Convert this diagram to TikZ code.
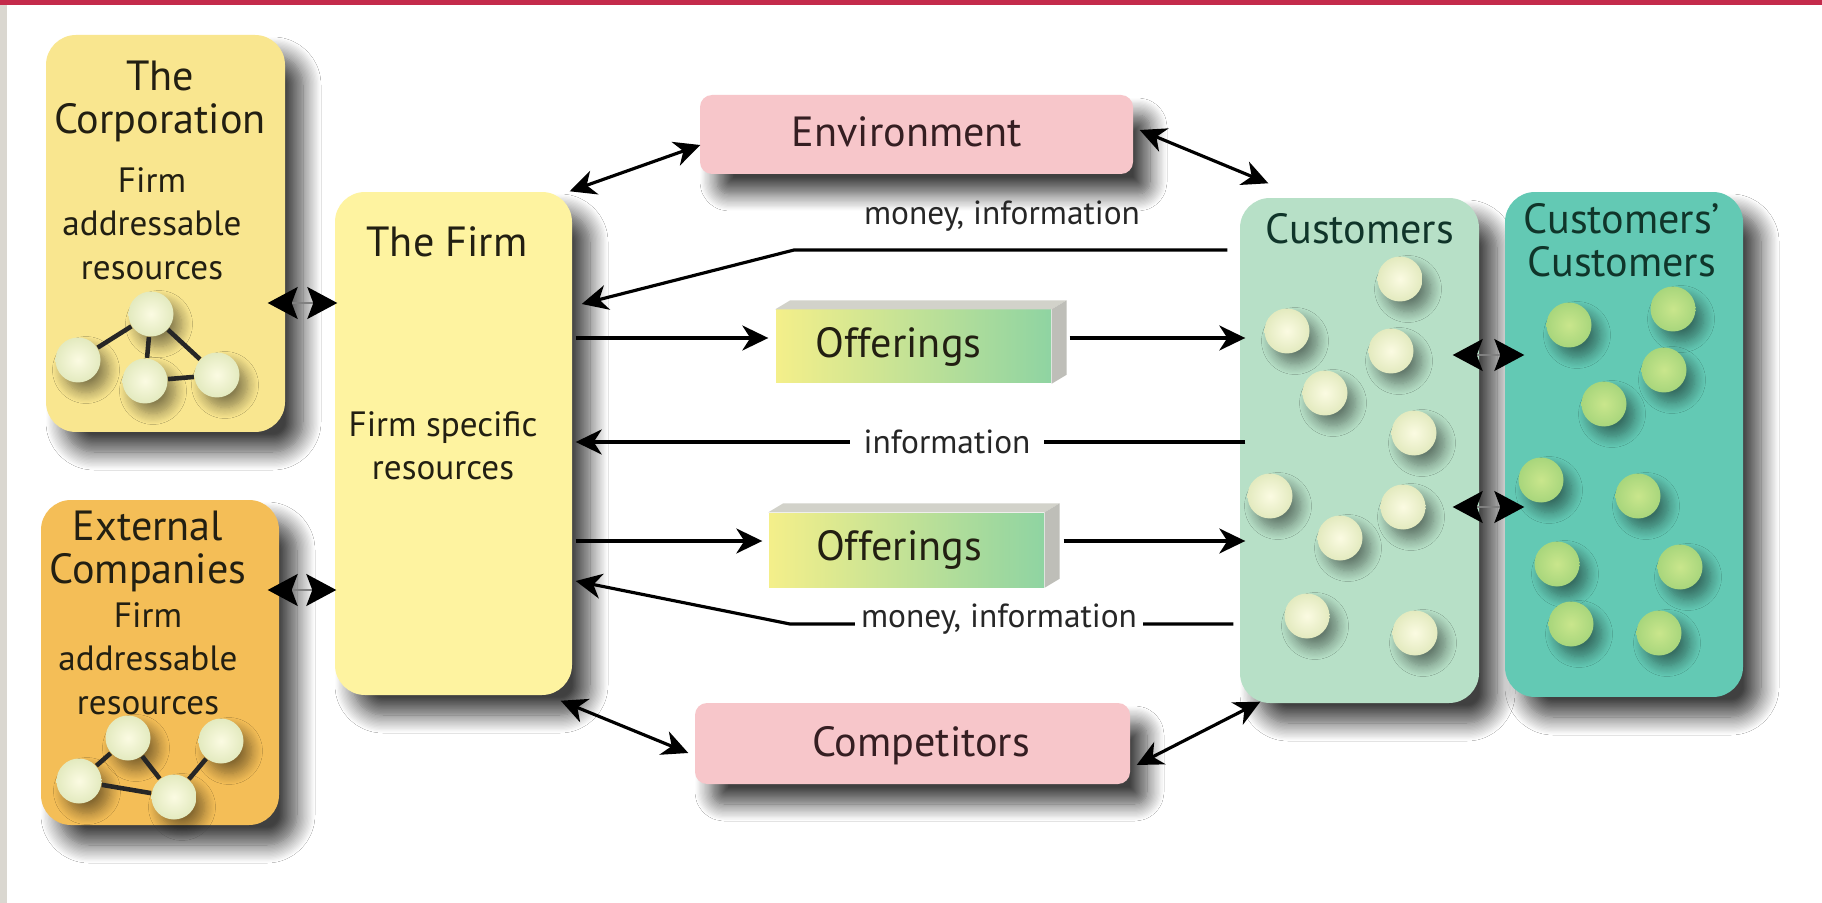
\documentclass[tikz,border=0pt]{standalone}
\usepackage{fontspec}
\setmainfont{PT Sans}
\usetikzlibrary{positioning, arrows.meta, shadows.blur, calc}

\definecolor{bandred}{HTML}{C42B4B}
\definecolor{edgegray}{HTML}{DAD7D0}
\definecolor{corpyellow}{HTML}{F9E68F}
\definecolor{firmyellow}{HTML}{FEF3A0}
\definecolor{extorange}{HTML}{F4BE57}
\definecolor{envpink}{HTML}{F7C6CA}
\definecolor{offyellow}{HTML}{F4EF8A}
\definecolor{offgreen}{HTML}{8FD4A2}
\definecolor{offtop}{HTML}{D2D2CA}
\definecolor{offside}{HTML}{BEBEB8}
\definecolor{custgreen}{HTML}{B7E0C7}
\definecolor{ccteal}{HTML}{63C9B4}
\definecolor{dotcream}{HTML}{FBFBE2}
\definecolor{dotcreamedge}{HTML}{E3EABF}
\definecolor{dotlime}{HTML}{C9E68C}
\definecolor{dotlimeedge}{HTML}{A8D67C}
\definecolor{inkbrown}{HTML}{221F12}
\definecolor{inkgreen}{HTML}{10352A}
\definecolor{inkrose}{HTML}{351E22}

\begin{document}
\begin{tikzpicture}[x=0.1mm, y=-0.1mm,
        box/.style={rounded corners=3mm, inner sep=0pt,
            blur shadow={shadow xshift=1.8mm, shadow yshift=-2mm, shadow blur radius=1.8mm, shadow blur steps=14, shadow opacity=75}},
        flatbox/.style={rounded corners=1.2mm, inner sep=0pt, fill=envpink,
            blur shadow={shadow xshift=1.7mm, shadow yshift=-2mm, shadow blur radius=1.7mm, shadow blur steps=14, shadow opacity=75}},
        title/.style={font=\fontsize{12}{12.3}\selectfont, align=center, inner sep=0pt, text=inkbrown},
        body/.style={font=\fontsize{10}{12.3}\selectfont, align=center, inner sep=0pt, text=inkbrown},
        flowtext/.style={font=\fontsize{9.5}{11}\selectfont, inner sep=0pt, text=black!85},
        dot/.style={circle, minimum size=4.5mm, inner sep=0pt, inner color=dotcream, outer color=dotcreamedge,
            blur shadow={shadow xshift=0.8mm, shadow yshift=-1mm, shadow blur radius=1.1mm, shadow blur steps=10, shadow opacity=45}},
        limedot/.style={dot, inner color=dotlime, outer color=dotlimeedge},
        edge/.style={line width=1.3pt, black!85},
        flow/.style={line width=0.9pt, -{Stealth[length=2.6mm, width=2.5mm, inset=0.8mm]}},
        twoway/.style={line width=0.9pt, {Stealth[length=2.6mm, width=2.5mm, inset=0.8mm]}-{Stealth[length=2.6mm, width=2.5mm, inset=0.8mm]}},
        link/.style={line width=0.5pt, draw=gray, {Stealth[length=3mm, width=3.2mm, inset=0.6mm, black]}-{Stealth[length=3mm, width=3.2mm, inset=0.6mm, black]}},
    ]
    \useasboundingbox (0,0) rectangle (1822,903);
    \fill[white] (0,0) rectangle (1822,903);
    \fill[bandred] (0,0) rectangle (1822,5);
    \fill[edgegray] (0,5) rectangle (7,903);

    \node[box, fill=corpyellow, minimum width=23.9mm, minimum height=39.7mm] (corp) at (165.5,233.5) {};
    \node[box, fill=extorange, minimum width=23.8mm, minimum height=32.5mm] (ext) at (160,662.5) {};
    \node[box, fill=firmyellow, minimum width=23.7mm, minimum height=50.3mm] (firm) at (453.5,443.5) {};
    \node[flatbox, minimum width=43.3mm, minimum height=7.9mm] (env) at (916.5,134.5) {};
    \node[flatbox, minimum width=43.5mm, minimum height=8.1mm] (comp) at (912.5,743.5) {};
    \node[box, fill=custgreen, minimum width=23.9mm, minimum height=50.5mm] (cust) at (1359.5,450.5) {};
    \node[box, fill=ccteal, minimum width=23.8mm, minimum height=50.5mm] (cc) at (1624,444.5) {};

    \node[title, anchor=north] (corptitle) at (160,60) {The\\Corporation};
    \node[body, anchor=north] (corpbody) at (152,167) {Firm\\addressable\\resources};
    \node[title, anchor=north] (exttitle) at (148,510) {External\\Companies};
    \node[body, anchor=north] (extbody) at (148,602) {Firm\\addressable\\resources};
    \node[title, anchor=north] (firmtitle) at (447,226) {The Firm};
    \node[body, anchor=north] (firmbody) at (443,411) {Firm specific\\resources};
    \node[title, text=inkrose] (envtext) at (907,132) {Environment};
    \node[title, text=inkrose] (comptext) at (921,746) {Competitors};
    \node[title, text=inkgreen] (custtitle) at (1360,229) {Customers};
    \node[title, text=inkgreen, anchor=north] (cctitle) at (1622,203) {Customers’\\Customers};

    \node[dot] (ct) at (151,314) {};
    \node[dot] (cl) at (78,360) {};
    \node[dot] (cm) at (145,381) {};
    \node[dot] (cr) at (217,375) {};
    \draw[edge] (cl) -- (ct) (ct) -- (cm) (ct) -- (cr) (cm) -- (cr);
    \node[dot] (et) at (128,738) {};
    \node[dot] (er) at (221,741) {};
    \node[dot] (el) at (79,781) {};
    \node[dot] (eb) at (174,797) {};
    \draw[edge] (el) -- (et) (et) -- (eb) (eb) -- (er) (el) -- (eb);

    \foreach \px/\py [count=\i] in {1400/279, 1287/331, 1391/351, 1325/393, 1414/433,
            1270/496, 1403/507, 1340/538, 1307/616, 1415/633}
        \node[dot] (cd\i) at (\px,\py) {};
    \foreach \px/\py [count=\i] in {1569/325, 1673/309, 1664/370, 1604/404, 1541/480,
            1638/496, 1557/564, 1680/567, 1571/624, 1659/633}
        \node[limedot] (ccd\i) at (\px,\py) {};

    \node[title, text=inkbrown, minimum width=27.5mm, minimum height=7.3mm, left color=offyellow, right color=offgreen] (off1) at (913.5,346.5) {Offerings\hspace{3mm}};
    \node[title, text=inkbrown, minimum width=27.5mm, minimum height=7.4mm, left color=offyellow, right color=offgreen] (off2) at (906.5,550) {Offerings\hspace{1.5mm}};
    \foreach \o in {off1, off2} {
        \fill[offtop] (\o.north west) -- ++(15,-9) -- ($(\o.north east)+(15,-9)$) -- (\o.north east) -- cycle;
        \fill[offside] (\o.north east) -- ++(15,-9) -- ($(\o.south east)+(15,-9)$) -- (\o.south east) -- cycle;
    }

    \coordinate (rowcorp) at (0,303);
    \coordinate (rowext) at (0,590);
    \coordinate (rowupper) at (0,355);
    \coordinate (rowlower) at (0,507);
    \coordinate (rowoffA) at (0,338);
    \coordinate (rowinfo) at (0,442);
    \coordinate (rowoffB) at (0,541);
    \coordinate (bendA) at (794,250);
    \coordinate (bendB) at (790,624);

    \draw[link] ($(corp.east |- rowcorp)+(-18,0)$) -- ($(firm.west |- rowcorp)+(3,0)$);
    \draw[link] ($(ext.east |- rowext)+(-12,0)$) -- ($(firm.west |- rowext)+(2,0)$);
    \draw[link] ($(cust.east |- rowupper)+(-27,0)$) -- ($(cc.west |- rowupper)+(20,0)$);
    \draw[link] ($(cust.east |- rowlower)+(-27,0)$) -- ($(cc.west |- rowlower)+(20,0)$);

    \draw[twoway] ($(firm.north east)+(-3,0)$) -- ($(env.west)+(1,10.5)$);
    \draw[twoway] ($(env.east)+(6,-4.5)$) -- ($(cust.north west)+(29,-14)$);
    \draw[twoway] ($(firm.south east)+(-12,5)$) -- ($(comp.west)+(-6,9.5)$);
    \draw[twoway] ($(comp.east)+(6,21.5)$) -- ($(cust.south west)+(21,-2)$);

    \draw[flow] ($(cust.west |- bendA)+(-12,0)$) -- (bendA) -- ($(firm.east)+(9,-139.5)$);
    \node[flowtext] (moneyA) at (1002,216) {money, information};
    \draw[flow] ($(firm.east |- rowoffA)+(3,0)$) -- ($(off1.west |- rowoffA)+(-7,0)$);
    \draw[flow] ($(off1.east |- rowoffA)+(18,0)$) -- ($(cust.west |- rowoffA)+(6,0)$);
    \draw[flow] ($(cust.west |- rowinfo)+(6,0)$) -- ($(firm.east |- rowinfo)+(3,0)$);
    \node[flowtext, fill=white, inner xsep=1.4mm, inner ysep=0.6mm] (info) at (947,442) {information};
    \draw[flow] ($(firm.east |- rowoffB)+(3,0)$) -- ($(off2.west |- rowoffB)+(-6,0)$);
    \draw[flow] ($(off2.east |- rowoffB)+(19,0)$) -- ($(cust.west |- rowoffB)+(6,0)$);
    \draw[flow] ($(cust.west |- bendB)+(-6,0)$) -- (bendB) -- ($(firm.east)+(3,137.5)$);
    \node[flowtext, fill=white, inner xsep=0.6mm, inner ysep=0.6mm] (moneyB) at (999,619) {money, information};
\end{tikzpicture}
\end{document}
